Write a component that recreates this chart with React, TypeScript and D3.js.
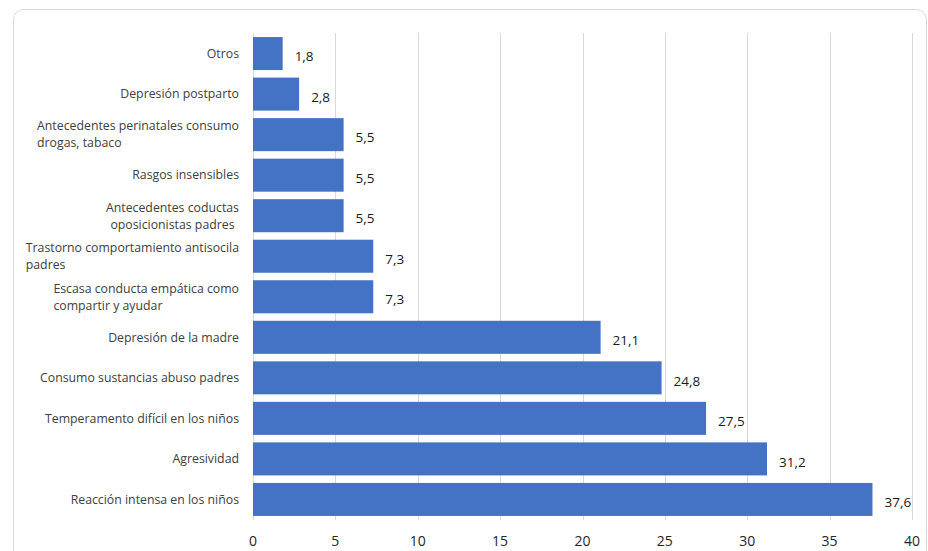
import React, { useEffect, useRef } from "react";
import * as d3 from "d3";

const categories: string[][] = [
  ["Otros"],
  ["Depresión postparto"],
  ["Antecedentes perinatales consumo", "drogas, tabaco"],
  ["Rasgos insensibles"],
  ["Antecedentes coductas", "oposicionistas padres"],
  ["Trastorno comportamiento antisocila", "padres"],
  ["Escasa conducta empática como", "compartir y ayudar"],
  ["Depresión de la madre"],
  ["Consumo sustancias abuso padres"],
  ["Temperamento difícil en los niños"],
  ["Agresividad"],
  ["Reacción intensa en los niños"],
];
const centeredLabels: number[] = [4];
const values: number[] = [1.8, 2.8, 5.5, 5.5, 5.5, 7.3, 7.3, 21.1, 24.8, 27.5, 31.2, 37.6];
const xTicks: number[] = [0, 5, 10, 15, 20, 25, 30, 35, 40];

const W = 928;
const H = 551;
const left = 253;
const right = 912;
const top = 33;
const bottom = 520;
const labelRight = 239;
const FONT = "'Open Sans', 'Noto Sans', sans-serif";

export default function App() {
  const ref = useRef<SVGSVGElement>(null);

  useEffect(() => {
    const svg = d3.select(ref.current);
    svg.selectAll("*").remove();

    const x = d3.scaleLinear().domain([0, 40]).range([left, right]);
    const idx = categories.map((_, i) => String(i));
    const y = d3.scaleBand().domain(idx).range([top, bottom]).paddingInner(0.185).paddingOuter(0.1);

    svg.append("rect").attr("width", W).attr("height", H).attr("fill", "#fff");
    svg
      .append("rect")
      .attr("x", 13.5)
      .attr("y", 9.5)
      .attr("width", 913)
      .attr("height", 560)
      .attr("rx", 10)
      .attr("fill", "#fff")
      .attr("stroke", "#d9d9d9")
      .attr("stroke-width", 1);

    // gridlines
    svg
      .append("g")
      .selectAll("line")
      .data(xTicks)
      .join("line")
      .attr("x1", (d) => Math.round(x(d)) + 0.5)
      .attr("x2", (d) => Math.round(x(d)) + 0.5)
      .attr("y1", top)
      .attr("y2", bottom)
      .attr("stroke", "#d9d9d9")
      .attr("stroke-width", 1);

    // bars
    svg
      .append("g")
      .selectAll("rect")
      .data(values)
      .join("rect")
      .attr("x", x(0))
      .attr("y", (_, i) => y(String(i))!)
      .attr("width", (d) => x(d) - x(0))
      .attr("height", y.bandwidth())
      .attr("fill", "#4472C4");

    // value labels
    svg
      .append("g")
      .selectAll("text")
      .data(values)
      .join("text")
      .attr("x", (d) => x(d) + 12)
      .attr("y", (_, i) => y(String(i))! + y.bandwidth() / 2 + 3)
      .attr("dy", "0.35em")
      .attr("font-family", FONT)
      .attr("font-size", 13.5)
      .attr("fill", "#1a1a1a")
      .text((d) => d.toFixed(1).replace(".", ","));

    // category labels
    const cg = svg.append("g");
    categories.forEach((lines, i) => {
      const cy = y(String(i))! + y.bandwidth() / 2;
      const lh = 17;
      const t = cg
        .append("text")
        .attr("font-family", FONT)
        .attr("font-size", 12.3)
        .attr("fill", "#404040");
      const spans = lines.map((ln, j) =>
        t
          .append("tspan")
          .attr("y", cy + (j - (lines.length - 1) / 2) * lh)
          .attr("dy", "0.35em")
          .text(ln)
      );
      if (lines.length === 1) {
        t.attr("text-anchor", "end");
        spans.forEach((s) => s.attr("x", labelRight));
      } else {
        const widths = spans.map((s) => (s.node() as SVGTSpanElement).getComputedTextLength());
        const maxW = Math.max(...widths);
        if (centeredLabels.includes(i)) {
          t.attr("text-anchor", "middle");
          spans.forEach((s) => s.attr("x", labelRight - maxW / 2));
        } else {
          t.attr("text-anchor", "start");
          spans.forEach((s) => s.attr("x", labelRight - maxW));
        }
      }
    });

    // x tick labels
    svg
      .append("g")
      .selectAll("text")
      .data(xTicks)
      .join("text")
      .attr("x", (d) => x(d))
      .attr("y", 541)
      .attr("dy", "0.35em")
      .attr("text-anchor", "middle")
      .attr("font-family", FONT)
      .attr("font-size", 14)
      .attr("fill", "#262626")
      .text((d) => String(d));
  }, []);

  return (
    <svg
      ref={ref}
      width={W}
      height={H}
      style={{ position: "absolute", left: 0, top: 0, display: "block" }}
    />
  );
}
